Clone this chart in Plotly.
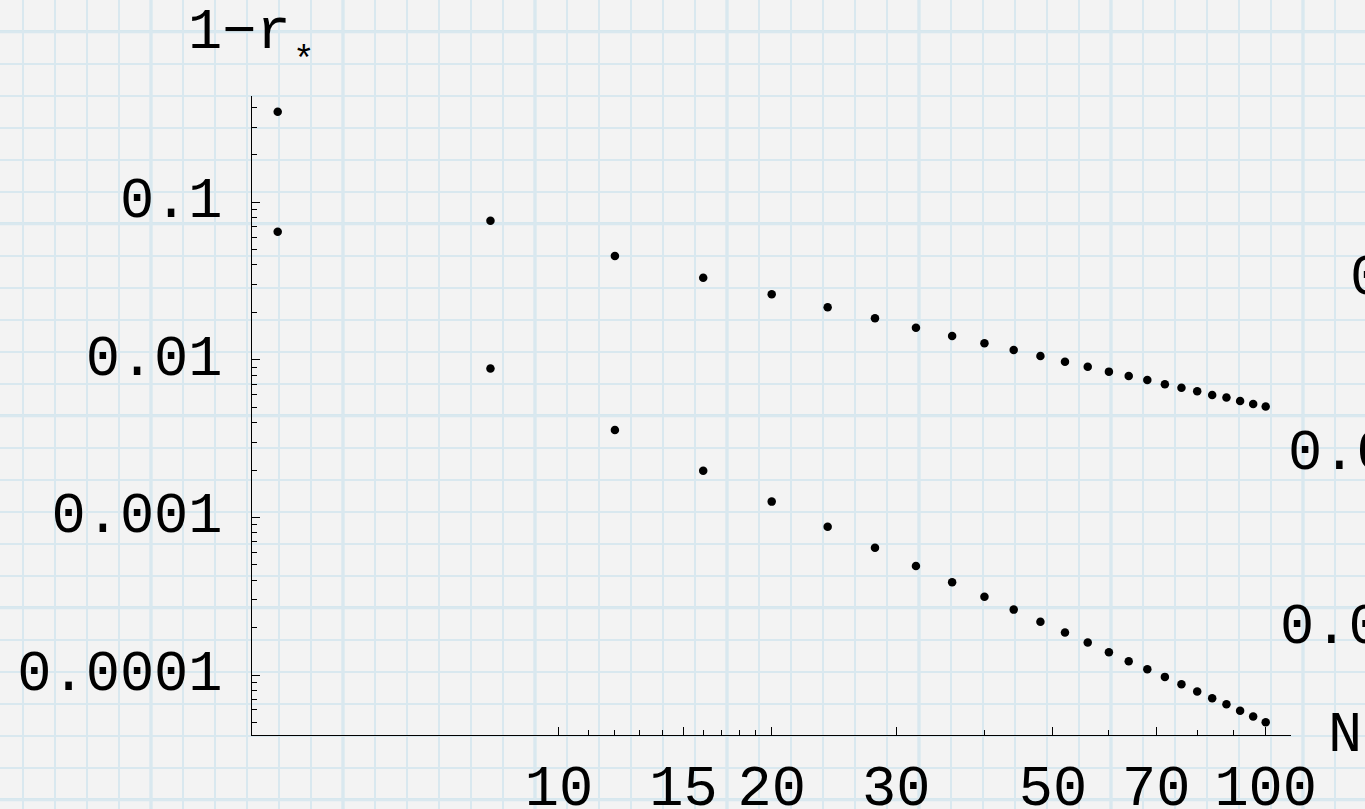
import plotly.graph_objects as go

# ---- data ----
N = [4, 8, 12, 16, 20, 24, 28, 32, 36, 40, 44, 48, 52, 56, 60, 64, 68, 72, 76, 80, 84, 88, 92, 96, 100]
upper = [0.3757, 0.0764, 0.04563, 0.03323, 0.02608, 0.02157, 0.01837, 0.01601, 0.01418, 0.01275,
         0.01156, 0.01058, 0.00974, 0.00905, 0.00842, 0.00790, 0.00746, 0.00700, 0.00666, 0.00632,
         0.00599, 0.00576, 0.00548, 0.00525, 0.00505]
lower = [0.0651, 0.00880, 0.00359, 0.00198, 0.00126, 0.000874, 0.000643, 0.000492, 0.000388, 0.000314,
         0.000260, 0.000218, 0.000186, 0.000161, 0.0001395, 0.0001224, 0.0001088, 0.0000973, 0.0000874,
         0.0000785, 0.0000713, 0.0000653, 0.0000594, 0.0000545, 0.0000502]

x_major = [10, 15, 20, 30, 50, 70, 100]
x_major_text = ["10", "15", "20", "30", "50", "70", "100"]
x_minor = [11, 12, 13, 14, 16, 17, 18, 19, 40, 60, 80, 90]

y_major = [1e-4, 1e-3, 1e-2, 1e-1]
y_major_text = ["0.0001", "0.001", "0.01", "0.1"]
y_minor = [m * 10.0 ** e for e in range(-5, 0) for m in range(2, 10)]

# free text on the page (axis names and labels of a neighbouring chart cut by the edge)
page_texts = ["1−r", "*", "N", "0.1", "0.01", "0.001"]
page_text_x = [188, 293, 1328, 1350, 1288, 1280]
page_text_y = [34, 62, 737, 280, 455, 629]
page_text_size = [57, 36, 57, 57, 57, 57]

FONT = "Liberation Mono"
FS = 57
W, H = 1365, 809

# graph-paper background grid (page pixels)
GRID_STEP = 32
GRID_X0, GRID_Y0 = 23, 31.7
THICK_EVERY = 6

fig = go.Figure()
fig.add_trace(go.Scatter(x=page_text_x, y=page_text_y, mode="text", text=page_texts,
                         textposition="middle right", cliponaxis=True,
                         textfont=dict(family=FONT, size=page_text_size, color="black"),
                         xaxis="x", yaxis="y", showlegend=False, hoverinfo="skip"))
fig.add_trace(go.Scatter(x=N, y=upper, mode="markers", xaxis="x2", yaxis="y2",
                         marker=dict(color="black", size=8.5), showlegend=False))
fig.add_trace(go.Scatter(x=N, y=lower, mode="markers", xaxis="x2", yaxis="y2",
                         marker=dict(color="black", size=8.5), showlegend=False))

grid_thin = "#d9e8ef"
grid_thick = "#d6e7ee"

# thicker lines every 6th square
shapes = []
k = 0
while GRID_X0 + k * GRID_STEP <= W:
    if (k - 4) % THICK_EVERY == 0:
        xv = GRID_X0 + k * GRID_STEP
        shapes.append(dict(type="line", xref="x", yref="y", x0=xv, x1=xv, y0=0, y1=H,
                           line=dict(color=grid_thick, width=3.2), layer="below"))
    k += 1
k = 0
while GRID_Y0 + k * GRID_STEP <= H:
    if k % THICK_EVERY == 0:
        yv = GRID_Y0 + k * GRID_STEP
        shapes.append(dict(type="line", xref="x", yref="y", x0=0, x1=W, y0=yv, y1=yv,
                           line=dict(color=grid_thick, width=3.2), layer="below"))
    k += 1

fig.update_layout(
    width=W, height=H,
    margin=dict(l=0, r=0, t=0, b=0, pad=0),
    paper_bgcolor="#f3f3f3",
    plot_bgcolor="rgba(0,0,0,0)",
    showlegend=False,
    shapes=shapes,
    xaxis=dict(domain=[0, 1], range=[0, W], anchor="y", showticklabels=False, ticks="",
               zeroline=False, showline=False, fixedrange=True, automargin=False,
               showgrid=True, tick0=GRID_X0, dtick=GRID_STEP, gridcolor=grid_thin, gridwidth=1.6),
    yaxis=dict(domain=[0, 1], range=[H, 0], anchor="x", showticklabels=False, ticks="",
               zeroline=False, showline=False, fixedrange=True, automargin=False,
               showgrid=True, tick0=GRID_Y0, dtick=GRID_STEP, gridcolor=grid_thin, gridwidth=1.6),
    xaxis2=dict(type="log", domain=[252 / W, 1291 / W], range=[0.56569, 2.0358], anchor="y2",
                automargin=False,
                showgrid=False, zeroline=False, showline=True, linecolor="black", linewidth=1.2,
                ticks="inside", ticklen=8, tickwidth=1, tickcolor="black",
                tickmode="array", tickvals=x_major, ticktext=x_major_text,
                tickfont=dict(family=FONT, size=FS, color="black"),
                ticklabelstandoff=0,
                minor=dict(ticks="inside", ticklen=4.5, tickwidth=1, tickcolor="black",
                           tickmode="array", tickvals=x_minor, showgrid=False)),
    yaxis2=dict(type="log", domain=[(H - 735) / H, (H - 96) / H], range=[-4.3807, -0.3255], anchor="x2",
                automargin=False,
                showgrid=False, zeroline=False, showline=True, linecolor="black", linewidth=1.2,
                ticks="inside", ticklen=8, tickwidth=1, tickcolor="black",
                tickmode="array", tickvals=y_major, ticktext=y_major_text,
                tickfont=dict(family=FONT, size=FS, color="black"),
                ticklabelstandoff=17, ticklabelshift=-5,
                minor=dict(ticks="inside", ticklen=4.5, tickwidth=1, tickcolor="black",
                           tickmode="array", tickvals=y_minor, showgrid=False)),
)

fig.write_html("out.html")
